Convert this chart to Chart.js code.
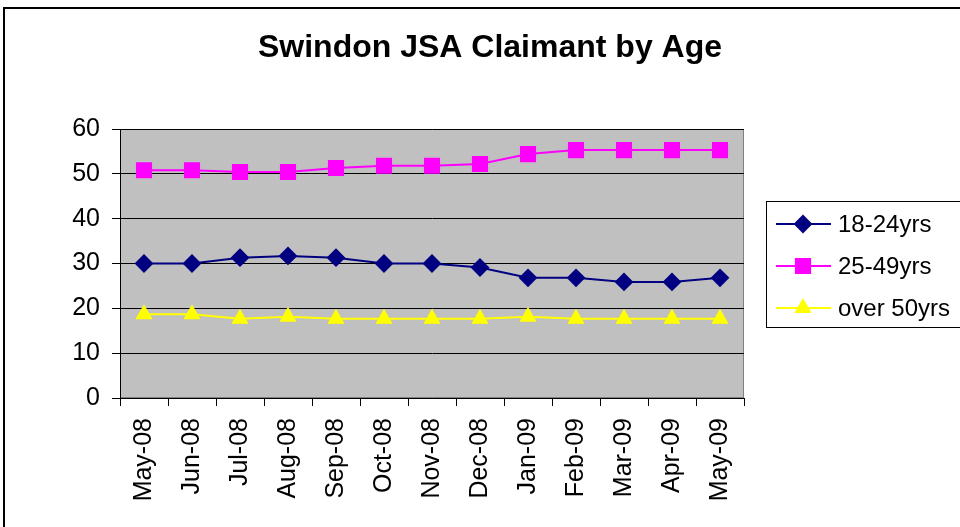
<!DOCTYPE html>
<html>
<head>
<meta charset="utf-8">
<script src="https://cdn.jsdelivr.net/npm/chart.js@4"></script>
<style>
  html, body { margin: 0; padding: 0; background: #fff; }
  #wrap { width: 960px; height: 527px; }
</style>
</head>
<body>
<div id="wrap"><canvas id="claimantChart" width="960" height="527"></canvas></div>
<script>
// data
var months = ['May-08', 'Jun-08', 'Jul-08', 'Aug-08', 'Sep-08', 'Oct-08', 'Nov-08',
              'Dec-08', 'Jan-09', 'Feb-09', 'Mar-09', 'Apr-09', 'May-09'];
var age18to24 = [30, 30, 31.3, 31.7, 31.3, 30, 30, 29.1, 26.8, 26.8, 25.9, 25.9, 26.8];
var age25to49 = [50.8, 50.8, 50.4, 50.4, 51.3, 51.8, 51.8, 52.2, 54.4, 55.3, 55.3, 55.3, 55.3];
var over50 = [18.7, 18.7, 17.7, 18.1, 17.7, 17.7, 17.7, 17.7, 18.1, 17.7, 17.7, 17.7, 17.7];
var yTicks = [0, 10, 20, 30, 40, 50, 60];
var chartTitle = 'Swindon JSA Claimant by Age';

var fontFamily = 'Arial, "Liberation Sans", sans-serif';

// grey plot area, outer frame and title
var framePlugin = {
    id: 'frame',
    beforeDraw: function(chart) {
        var ctx = chart.ctx, a = chart.chartArea;
        ctx.save();
        ctx.fillStyle = '#C0C0C0';
        ctx.fillRect(a.left, a.top, a.right - a.left, a.bottom - a.top);
        ctx.strokeStyle = '#808080';
        ctx.lineWidth = 1;
        ctx.strokeRect(a.left + 0.5, a.top + 0.5, a.right - a.left - 1, a.bottom - a.top - 1);
        ctx.strokeStyle = '#000';
        ctx.lineWidth = 2;
        ctx.strokeRect(4, 8, 1000, 1000);
        ctx.fillStyle = '#000';
        ctx.font = 'bold 32px ' + fontFamily;
        ctx.textAlign = 'center';
        ctx.textBaseline = 'alphabetic';
        ctx.fillText(chartTitle, 490, 57);
        ctx.restore();
    }
};

// legend with line + marker samples
var legendPlugin = {
    id: 'boxLegend',
    afterDraw: function(chart) {
        var ctx = chart.ctx;
        ctx.save();
        ctx.strokeStyle = '#000';
        ctx.lineWidth = 1;
        ctx.strokeRect(766.5, 201.5, 300, 126);
        ctx.font = '24px ' + fontFamily;
        ctx.textBaseline = 'middle';
        chart.data.datasets.forEach(function(ds, i) {
            var y = 224 + i * 42;
            ctx.strokeStyle = ds.borderColor;
            ctx.lineWidth = 2;
            ctx.beginPath();
            ctx.moveTo(776, y);
            ctx.lineTo(831, y);
            ctx.stroke();
            ctx.fillStyle = ds.pointBackgroundColor;
            ctx.strokeStyle = ds.pointBorderColor;
            Chart.helpers.drawPoint(ctx, {
                pointStyle: ds.pointStyle,
                radius: ds.pointRadius,
                rotation: 0,
                borderWidth: 1
            }, 803, y);
            ctx.fillStyle = '#000';
            ctx.fillText(ds.label, 838, y + 1);
        });
        ctx.restore();
    }
};

window.onload = function() {
    var ctx = document.getElementById('claimantChart').getContext('2d');
    new Chart(ctx, {
        type: 'line',
        data: {
            labels: months,
            datasets: [{
                label: '18-24yrs',
                data: age18to24,
                borderColor: '#000080',
                pointBackgroundColor: '#000080',
                pointBorderColor: '#000080',
                pointStyle: 'rectRot',
                pointRadius: 8,
                borderWidth: 2
            }, {
                label: '25-49yrs',
                data: age25to49,
                borderColor: '#FF00FF',
                pointBackgroundColor: '#FF00FF',
                pointBorderColor: '#FF00FF',
                pointStyle: 'rect',
                pointRadius: 10,
                borderWidth: 2
            }, {
                label: 'over 50yrs',
                data: over50,
                borderColor: '#FFFF00',
                pointBackgroundColor: '#FFFF00',
                pointBorderColor: '#FFFF00',
                pointStyle: 'triangle',
                pointRadius: 8,
                borderWidth: 2
            }]
        },
        options: {
            responsive: false,
            animation: false,
            layout: { padding: { left: 10, right: 216, top: 129, bottom: 0 } },
            plugins: {
                legend: { display: false },
                tooltip: { enabled: false },
                title: { display: false }
            },
            scales: {
                x: {
                    offset: true,
                    grid: { offset: true, drawOnChartArea: false, drawTicks: true, tickLength: 8, color: '#000' },
                    border: { color: '#000', width: 1 },
                    ticks: {
                        color: '#000',
                        minRotation: 90,
                        maxRotation: 90,
                        autoSkip: false,
                        padding: 12,
                        font: { family: fontFamily, size: 25 }
                    },
                    afterFit: function(scale) { scale.height = 129; }
                },
                y: {
                    min: 0,
                    max: 60,
                    afterBuildTicks: function(scale) {
                        scale.ticks = yTicks.map(function(v) { return { value: v }; });
                    },
                    grid: { color: '#000', tickLength: 8, lineWidth: 1 },
                    border: { color: '#000', width: 1 },
                    ticks: {
                        color: '#000',
                        padding: 12,
                        font: { family: fontFamily, size: 25 }
                    },
                    afterFit: function(scale) { scale.width = 110; }
                }
            }
        },
        plugins: [framePlugin, legendPlugin]
    });
};
</script>
</body>
</html>
